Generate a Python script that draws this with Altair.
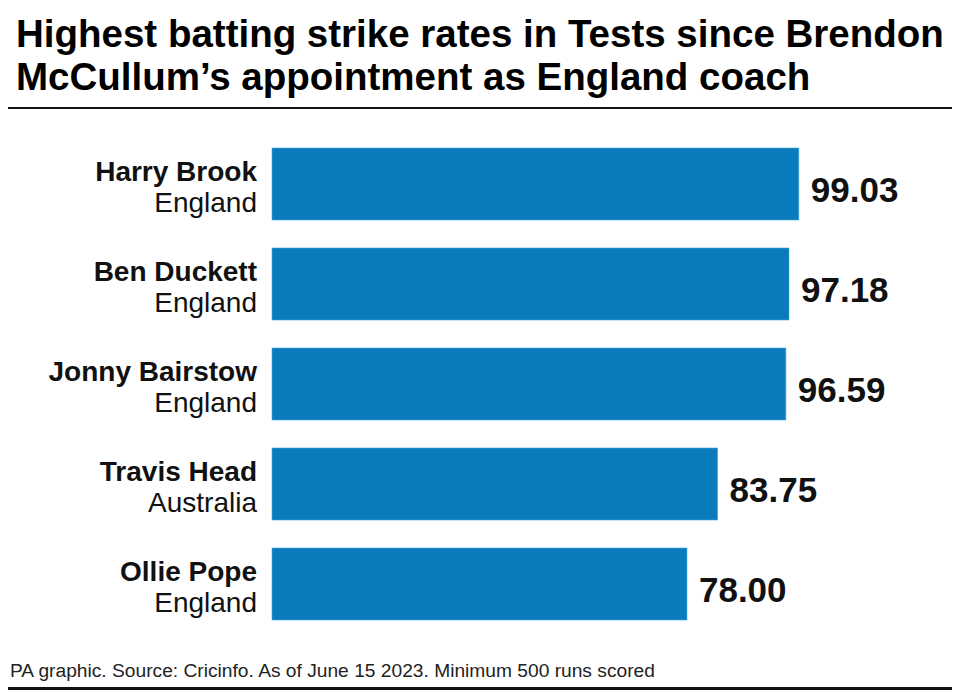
import altair as alt
import pandas as pd

names = ["Harry Brook", "Ben Duckett", "Jonny Bairstow", "Travis Head", "Ollie Pope"]
countries = ["England", "England", "England", "Australia", "England"]
rates = [99.03, 97.18, 96.59, 83.75, 78.00]
labels = ["99.03", "97.18", "96.59", "83.75", "78.00"]

title_lines = ["Highest batting strike rates in Tests since Brendon",
               "McCullum\u2019s appointment as England coach"]
footer = "PA graphic. Source: Cricinfo. As of June 15 2023. Minimum 500 runs scored"

FONT = "Liberation Sans"
BAR = "#0a7cbd"

df = pd.DataFrame({"name": names, "country": countries, "rate": rates, "label": labels})

yscale = alt.Scale(domain=names, range=[126, 626], paddingInner=0.28, paddingOuter=0.14)
xscale = alt.Scale(domain=[0, 100], range=[264, 796])

base = alt.Chart(df)

bars = base.mark_bar(color=BAR, stroke="#4aa3d6", strokeWidth=0.6).encode(
    x=alt.X("rate:Q", scale=xscale, axis=None),
    y=alt.Y("name:N", scale=yscale, axis=None, sort=names),
)

vals = base.mark_text(align="left", baseline="alphabetic", dx=12, dy=18,
                      font=FONT, fontSize=35, fontWeight="bold", color="#111111").encode(
    x=alt.X("rate:Q", scale=xscale, axis=None),
    y=alt.Y("name:N", scale=yscale, sort=names, axis=None),
    text="label:N",
)

name_txt = base.mark_text(align="right", baseline="alphabetic", dy=-3,
                          font=FONT, fontSize=28, fontWeight="bold", color="#111111").encode(
    x=alt.value(249),
    y=alt.Y("name:N", scale=yscale, sort=names, axis=None),
    text="name:N",
)

country_txt = base.mark_text(align="right", baseline="alphabetic", dy=28,
                             font=FONT, fontSize=28, color="#111111").encode(
    x=alt.value(249),
    y=alt.Y("name:N", scale=yscale, sort=names, axis=None),
    text="country:N",
)

title_df = pd.DataFrame({"line": title_lines, "i": list(range(len(title_lines)))})
title = alt.Chart(title_df).mark_text(
    align="left", baseline="alphabetic", font=FONT, fontSize=38.5, fontWeight="bold",
    color="#000000"
).encode(
    x=alt.value(8),
    y=alt.Y("i:Q", scale=alt.Scale(domain=[0, 1], range=[39, 82]), axis=None),
    text="line:N",
)

foot = alt.Chart(pd.DataFrame({"t": [footer]})).mark_text(
    align="left", baseline="alphabetic", font=FONT, fontSize=19.2, color="#222222"
).encode(x=alt.value(2), y=alt.value(669), text="t:N")

top_rule = alt.Chart(pd.DataFrame({"a": [0]})).mark_rule(color="#111111", strokeWidth=2).encode(
    x=alt.value(0), x2=alt.value(944), y=alt.value(100))
bot_rule = alt.Chart(pd.DataFrame({"a": [0]})).mark_rule(color="#111111", strokeWidth=3).encode(
    x=alt.value(0), x2=alt.value(944), y=alt.value(680.5))

chart = alt.layer(bars, vals, name_txt, country_txt, title, foot, top_rule, bot_rule).resolve_scale(
    y="independent"
).properties(
    width=944, height=682, autosize=alt.AutoSizeParams(type="none"), padding=0,
    background="white"
).configure_view(stroke=None)

chart.save("out.html", embed_options={"renderer": "svg", "actions": False})
